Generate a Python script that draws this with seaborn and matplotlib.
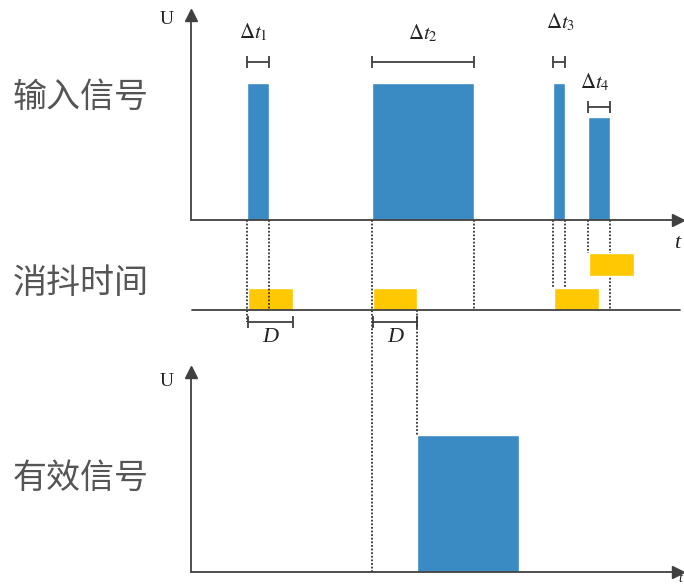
import numpy as np
import pandas as pd
import matplotlib
matplotlib.use("Agg")
import matplotlib.pyplot as plt
import seaborn as sns

# -----------------------------------------------------------------------------
# data (time in arbitrary units, level in U)
# -----------------------------------------------------------------------------
in_start = [5.63, 18.07, 36.23, 39.67]
in_end = [7.83, 28.30, 37.40, 41.90]
in_level = [1.0, 1.0, 1.0, 0.75]
in_labels = [r"$\Delta t_1$", r"$\Delta t_2$", r"$\Delta t_3$", r"$\Delta t_4$"]

deb_start = [5.73, 18.17, 36.33, 39.83]
deb_width = 4.45          # D
deb_row = [0, 0, 0, 1]    # overlapping windows are drawn one row higher

out_start = [22.57]
out_end = [32.80]
out_level = [1.0]

panel_names = ["输入信号", "消抖时间", "有效信号"]

# -----------------------------------------------------------------------------
# layout (figure is drawn in one axes: x = time, y = pixel height from bottom)
# -----------------------------------------------------------------------------
W, H = 684, 588
X0, PX = 191, 10.0            # pixel of t=0, pixels per time unit
Y_TOP, Y_MID, Y_BOT = 368, 278, 16.3
U_PX = 136.7                  # pixels per U
DEB_H, ROW_GAP = 22.3, 34.3

BLUE = "#3a8ac3"
YELLOW = "#ffc800"
INK = "#404040"
GREY_TXT = "#555555"

sns.set_theme(style="white")
plt.rcParams["font.family"] = ["Noto Sans CJK SC", "DejaVu Sans"]
plt.rcParams["mathtext.fontset"] = "stix"

fig = plt.figure(figsize=(W / 100, H / 100), dpi=100)
ax = fig.add_axes([0, 0, 1, 1])
ax.set_xlim(-X0 / PX, (W - X0) / PX)
ax.set_ylim(0, H)
ax.axis("off")

inp = pd.DataFrame({"start": in_start, "end": in_end, "level": in_level, "label": in_labels})
deb = pd.DataFrame({"start": deb_start, "row": deb_row})
out = pd.DataFrame({"start": out_start, "end": out_end, "level": out_level})

x_min = 0.0
x_max = (678 - X0) / PX


def draw_axes(base, top, u_y):
    ax.plot([x_min, x_max], [base, base], color=INK, lw=1.3, zorder=5)
    ax.plot([x_min, x_min], [base, top], color=INK, lw=1.3, zorder=5)
    ax.plot(x_max, base, marker=">", ms=8, color=INK, zorder=5, clip_on=False)
    ax.plot(x_min, top, marker="^", ms=8, color=INK, zorder=5)
    ax.text((167 - X0) / PX, u_y, "U", fontsize=14, family="Liberation Serif",
            color="#222222", ha="center", va="center")


# --- input signal ---
draw_axes(Y_TOP, H - 15, H - 20)
ax.bar(inp["start"], inp["level"] * U_PX, width=inp["end"] - inp["start"],
       bottom=Y_TOP, align="edge", color=BLUE, zorder=2)
ax.text((677 - X0) / PX, H - 243, "t", fontsize=16, family="Liberation Serif",
        style="italic", color="#222222", ha="center", va="center")

bracket_y = [H - 61.7, H - 61.7, H - 61.7, H - 107.3]
label_xy = [(253, 32), (423, 33), (561, 22), (595, 82)]
for i, r in inp.iterrows():
    mid = (r["start"] + r["end"]) / 2
    ax.errorbar(mid, bracket_y[i], xerr=(r["end"] - r["start"]) / 2, fmt="none",
                ecolor=INK, elinewidth=1.3, capsize=4, capthick=1.3)
    lx, ly = label_xy[i]
    ax.text((lx - X0) / PX, H - ly, r["label"], fontsize=15, color="#222222",
            ha="center", va="center")

# --- debounce windows ---
ax.plot([(192 - X0) / PX, (680 - X0) / PX], [Y_MID, Y_MID], color=INK, lw=1.3, zorder=5)
for _, r in deb.iterrows():
    ax.bar(r["start"], DEB_H, width=deb_width, bottom=Y_MID + r["row"] * ROW_GAP,
           align="edge", color=YELLOW, zorder=2 + 2 * r["row"])

for s in deb_start[:2]:
    ax.errorbar(s + deb_width / 2, H - 321.7, xerr=deb_width / 2, fmt="none",
                ecolor=INK, elinewidth=1.3, capsize=4, capthick=1.3)
    ax.text((s + deb_width / 2), H - 337, "D", fontsize=16, family="Liberation Serif",
            style="italic", color="#222222", ha="center", va="center")

# --- effective signal ---
draw_axes(Y_BOT, H - 372, H - 381)
ax.bar(out["start"], out["level"] * U_PX, width=out["end"] - out["start"],
       bottom=Y_BOT, align="edge", color=BLUE, zorder=2)
ax.text((682 - X0) / PX, H - 579, "t", fontsize=10, family="Liberation Serif",
        style="italic", color="#222222", ha="right", va="center")

# --- dotted guide lines ---
deb_top = Y_MID + DEB_H
guides = [
    (in_start[0], Y_TOP, H - 321.7),
    (in_end[0], Y_TOP, Y_MID),
    (in_start[1], Y_TOP, Y_BOT),
    (in_end[1], Y_TOP, Y_MID),
    (in_start[2], Y_TOP, deb_top),
    (in_end[2], Y_TOP, deb_top),
    (in_start[3], Y_TOP, Y_MID + ROW_GAP + DEB_H),
    (in_end[3], Y_TOP, Y_MID),
    (deb_start[1] + deb_width, Y_MID, Y_BOT + U_PX * out_level[0]),
]
for x, y1, y2 in guides:
    ax.plot([x, x], [y1, y2], color="#333333", lw=1.3, ls=(0, (1, 1)), zorder=3)

# --- panel names ---
for name, yc in zip(panel_names, [97, 283, 478]):
    ax.text((81 - X0) / PX, H - yc, name, fontsize=24.5, color=GREY_TXT,
            fontweight="light", ha="center", va="center")

plt.savefig("out.png", dpi=100)
plt.close()
